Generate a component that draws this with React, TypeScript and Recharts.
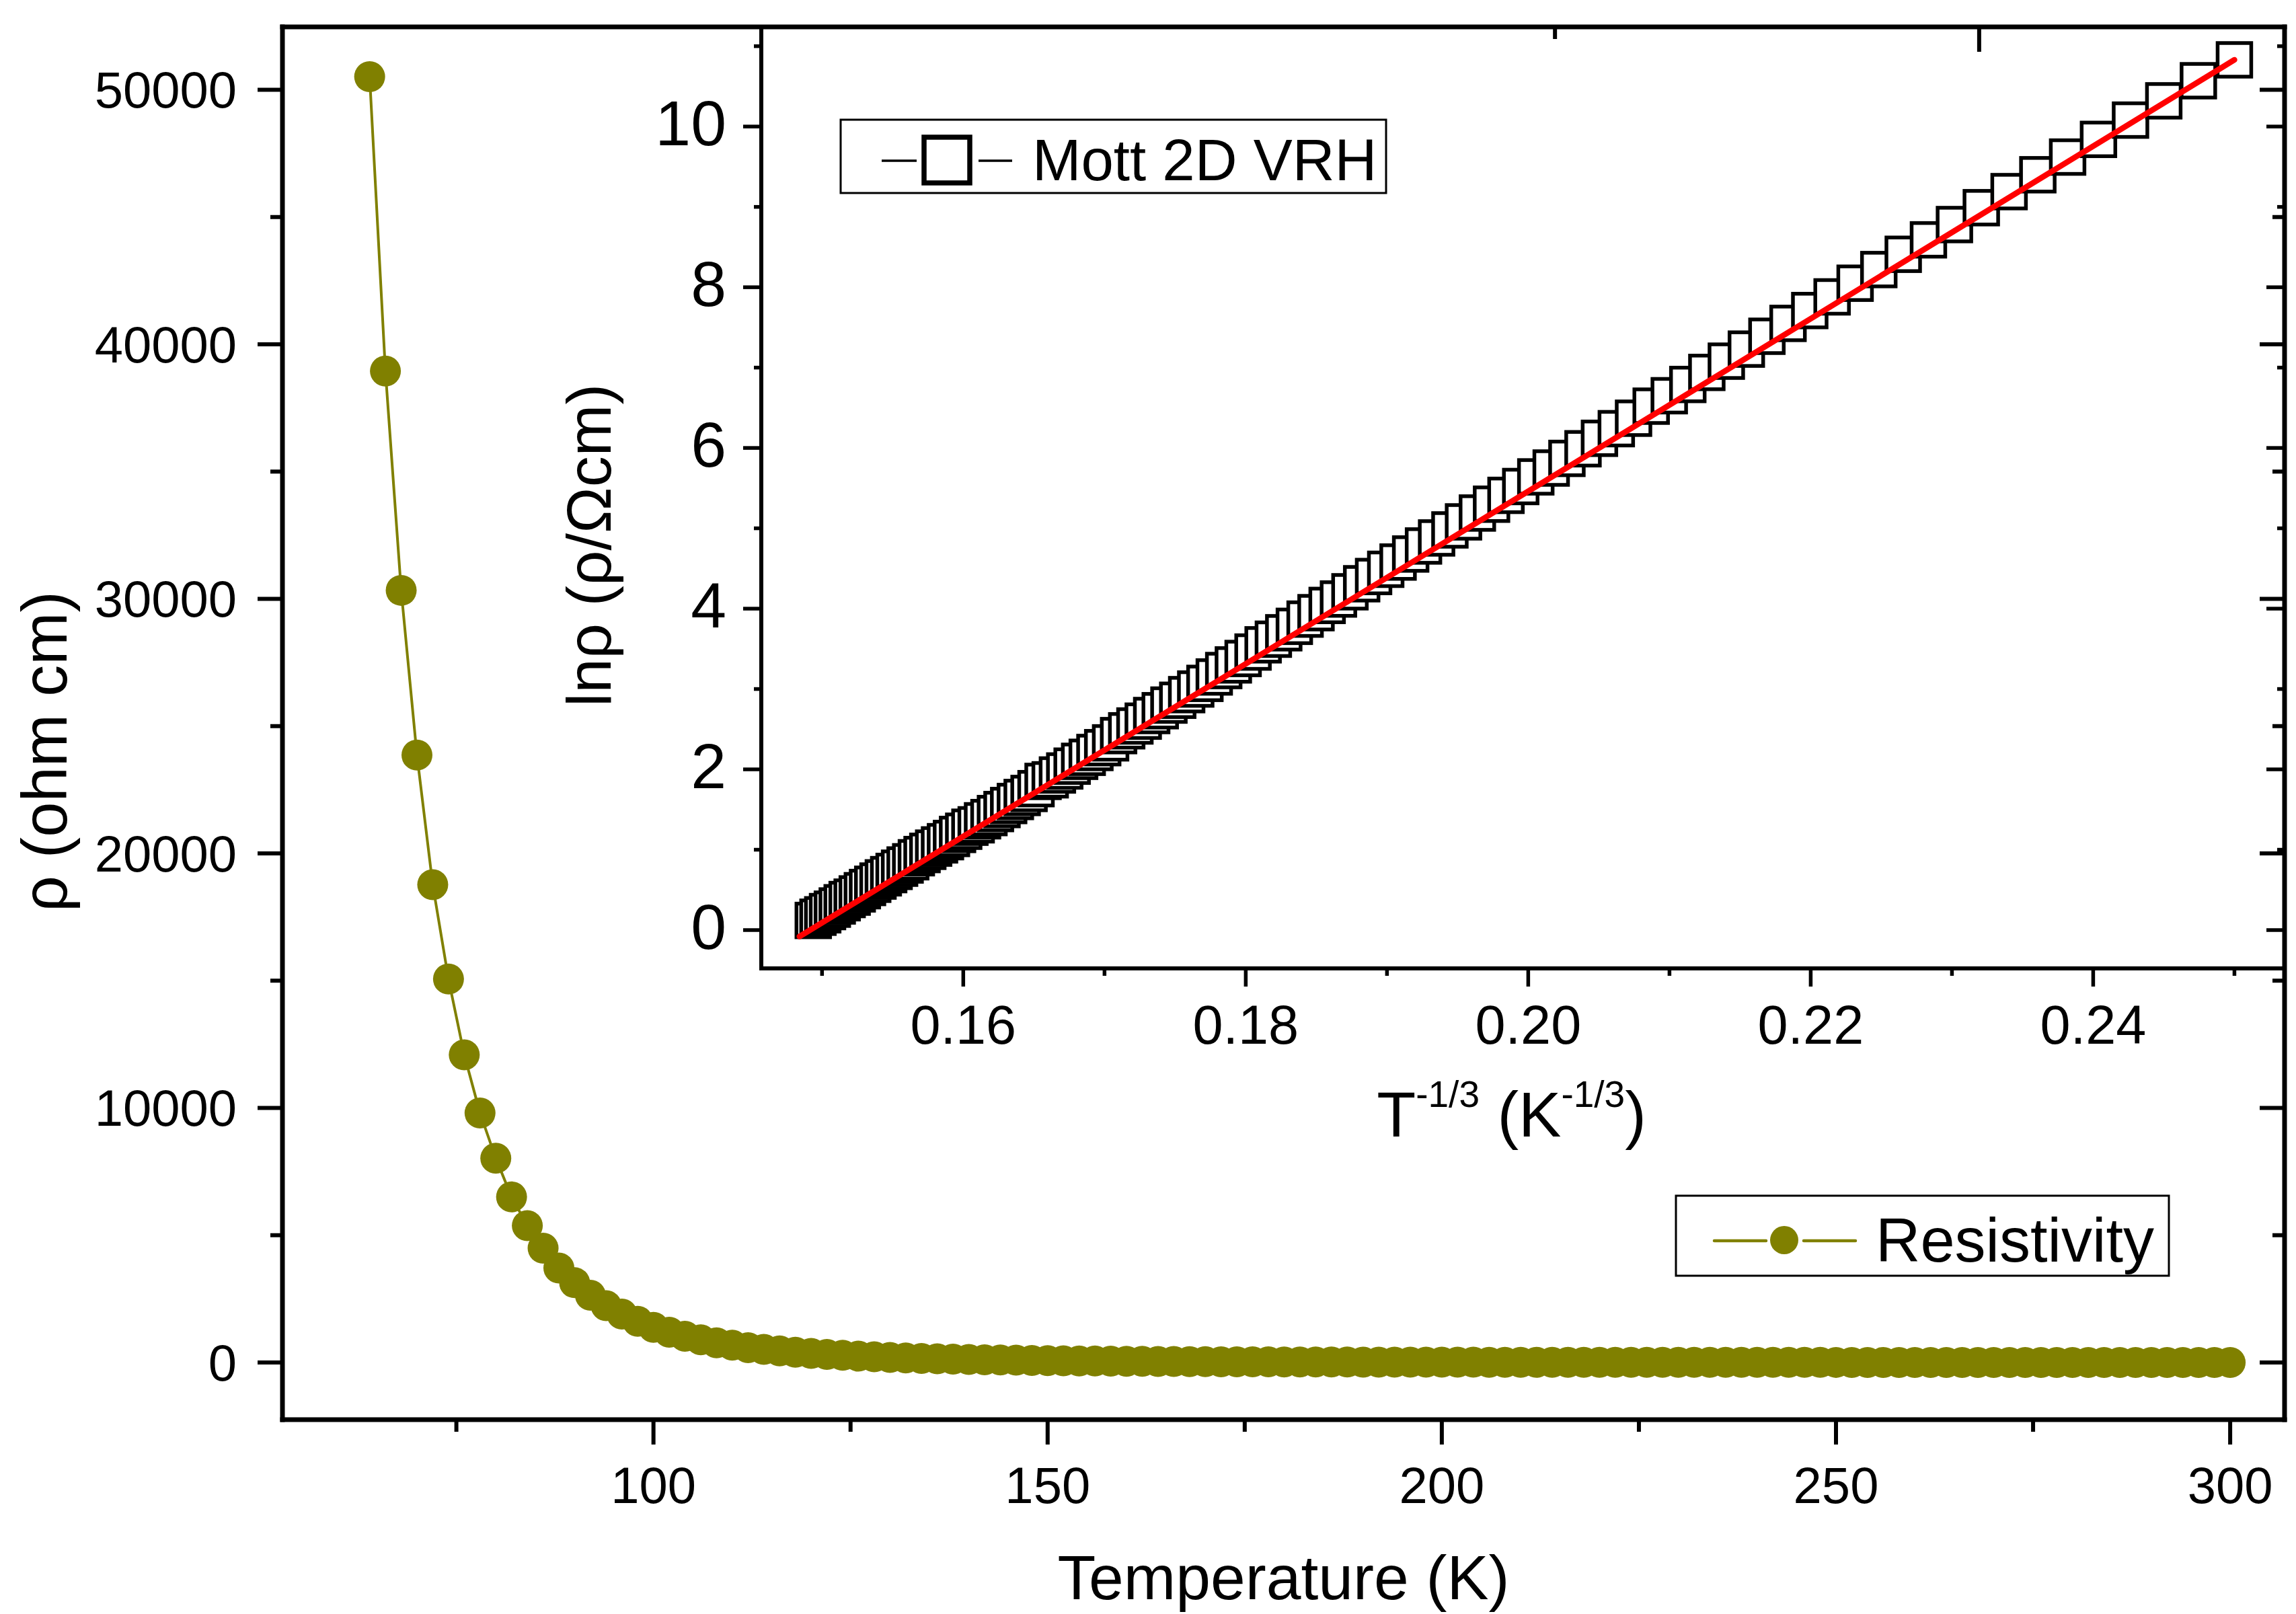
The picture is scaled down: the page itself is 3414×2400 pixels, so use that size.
import React from 'react';
import { ComposedChart, Line, Scatter, XAxis, YAxis, Customized } from 'recharts';

const W = 3414;
const H = 2400;
const FONT = '"Liberation Sans", Arial, Helvetica, sans-serif';
const OLIVE = '#808000';

// temperature (K) of each measured point
const temperature = [
  64, 66, 68, 70, 72, 74, 76, 78, 80, 82, 84, 86, 88, 90, 92, 94, 96, 98, 100, 102,
  104, 106, 108, 110, 112, 114, 116, 118, 120, 122, 124, 126, 128, 130, 132, 134, 136, 138, 140, 142,
  144, 146, 148, 150, 152, 154, 156, 158, 160, 162, 164, 166, 168, 170, 172, 174, 176, 178, 180, 182,
  184, 186, 188, 190, 192, 194, 196, 198, 200, 202, 204, 206, 208, 210, 212, 214, 216, 218, 220, 222,
  224, 226, 228, 230, 232, 234, 236, 238, 240, 242, 244, 246, 248, 250, 252, 254, 256, 258, 260, 262,
  264, 266, 268, 270, 272, 274, 276, 278, 280, 282, 284, 286, 288, 290, 292, 294, 296, 298, 300,
];

// ln(rho / ohm cm)
const lnRho = [
  10.83, 10.57, 10.32, 10.08, 9.84, 9.62, 9.4, 9.19, 8.99, 8.78, 8.59, 8.41, 8.22,
  8.05, 7.88, 7.71, 7.55, 7.39, 7.23, 7.08, 6.94, 6.79, 6.65,
  6.52, 6.37, 6.24, 6.12, 5.99, 5.87, 5.75, 5.64, 5.52, 5.41,
  5.3, 5.19, 5.08, 4.98, 4.88, 4.78, 4.68, 4.58, 4.49, 4.4,
  4.31, 4.21, 4.12, 4.04, 3.95, 3.87, 3.78, 3.7, 3.62, 3.55,
  3.46, 3.38, 3.3, 3.23, 3.15, 3.07, 3.0, 2.93, 2.86, 2.8,
  2.73, 2.67, 2.6, 2.54, 2.48, 2.42, 2.33, 2.27, 2.21, 2.15,
  2.1, 2.04, 1.98, 1.93, 1.87, 1.85, 1.76, 1.7, 1.65, 1.6,
  1.55, 1.5, 1.45, 1.4, 1.36, 1.31, 1.28, 1.23, 1.19, 1.14,
  1.1, 1.06, 1.02, 0.98, 0.94, 0.9, 0.85, 0.81, 0.77, 0.73,
  0.69, 0.65, 0.61, 0.57, 0.53, 0.49, 0.45, 0.41, 0.38, 0.34,
  0.3, 0.26, 0.23, 0.19, 0.16, 0.12,
];

// linear fit (red line) end points
const fitX = [0.1484, 0.25];
const fitLn = [-0.08, 10.83];

const mainXTicks = [75, 100, 125, 150, 175, 200, 225, 250, 275, 300];
const mainYTicks = [0, 5000, 10000, 15000, 20000, 25000, 30000, 35000, 40000, 45000, 50000];
const insetXTicks = [0.15, 0.16, 0.17, 0.18, 0.19, 0.2, 0.21, 0.22, 0.23, 0.24, 0.25];
const insetYTicks = [0, 1, 2, 3, 4, 5, 6, 7, 8, 9, 10, 11];

const mainData = temperature.map((t, i) => ({ T: t, rho: Math.exp(lnRho[i]) }));
// drawn from 300 K down to 64 K so the low-T squares sit on top
const insetData = temperature.map((t, i) => ({ x: Math.pow(t, -1 / 3), v: lnRho[i] })).reverse();
const fitData = fitX.map((x, i) => ({ x, v: fitLn[i] }));

type TickOpts = {
  side: 'bottom' | 'top' | 'left' | 'right';
  isMajor: (v: number) => boolean;
  major: number;
  minor: number;
  sw: number;
  fontSize?: number;
  offset?: number;
  dy?: number;
  format?: (v: number) => string;
};

const makeTick = (o: TickOpts) => (props: any) => {
  const { x, y, payload } = props;
  const v = payload.value;
  const major = o.isMajor(v);
  const len = major ? o.major : o.minor;
  const vertical = o.side === 'bottom' || o.side === 'top';
  const line = vertical
    ? <line x1={x} y1={y} x2={x} y2={y + len} stroke="#000" strokeWidth={o.sw} />
    : <line x1={x} y1={y} x2={x - len} y2={y} stroke="#000" strokeWidth={o.sw} />;
  let label = null;
  if (major && o.format) {
    label = o.side === 'bottom'
      ? <text x={x} y={y + (o.offset || 0)} textAnchor="middle" fontSize={o.fontSize} fontFamily={FONT} fill="#000">{o.format(v)}</text>
      : <text x={x - (o.offset || 0)} y={y + (o.dy || 0)} textAnchor="end" fontSize={o.fontSize} fontFamily={FONT} fill="#000">{o.format(v)}</text>;
  }
  return <g>{line}{label}</g>;
};

const mainMajorX = (v: number) => v % 50 === 0;
const mainMajorY = (v: number) => v % 10000 === 0;
const insetMajorX = (v: number) => Math.round(v * 100) % 2 === 0;
const insetMajorY = (v: number) => v % 2 === 0;

const mainAxisLine = { stroke: '#000', strokeWidth: 7, strokeLinecap: 'square' as const };
const insetAxisLine = { stroke: '#000', strokeWidth: 6, strokeLinecap: 'square' as const };

const ResistivityLegend = () => (
  <g>
    <rect x={2492} y={1778} width={733} height={119} fill="#fff" stroke="#000" strokeWidth={3} />
    <line x1={2549} y1={1845} x2={2626} y2={1845} stroke={OLIVE} strokeWidth={4.5} strokeLinecap="round" />
    <line x1={2682} y1={1845} x2={2759} y2={1845} stroke={OLIVE} strokeWidth={4.5} strokeLinecap="round" />
    <circle cx={2653} cy={1844} r={21} fill={OLIVE} />
    <text x={2789} y={1876} fontSize={92} fontFamily={FONT} fill="#000">Resistivity</text>
  </g>
);

const MottLegend = () => (
  <g>
    <rect x={1250} y={178} width={811} height={109} fill="#fff" stroke="#000" strokeWidth={3} />
    <line x1={1311} y1={239} x2={1363} y2={239} stroke="#000" strokeWidth={3.5} />
    <line x1={1455} y1={239} x2={1505} y2={239} stroke="#000" strokeWidth={3.5} />
    <rect x={1374} y={204} width={68} height={68} fill="#fff" stroke="#000" strokeWidth={7.5} />
    <text x={1535} y={268} fontSize={87} fontFamily={FONT} fill="#000">Mott 2D VRH</text>
  </g>
);

const Square = (props: any) => {
  const { cx, cy } = props;
  if (cx == null || cy == null) return <g />;
  return <rect x={cx - 25} y={cy - 25} width={50} height={50} fill="#fff" stroke="#000" strokeWidth={5.5} />;
};

const NoMark = () => <g />;

const MainChart = () => (
  <ComposedChart width={W} height={H} data={mainData} margin={{ top: 30, right: 7, bottom: 89, left: 120 }}>
    <XAxis
      xAxisId="b" dataKey="T" type="number" domain={[52.94, 306.9]} allowDataOverflow
      ticks={mainXTicks} interval={0} tickSize={0} tickMargin={0} tickLine={false} height={200}
      axisLine={mainAxisLine}
      tick={makeTick({ side: 'bottom', isMajor: mainMajorX, major: 37, minor: 18, sw: 6, fontSize: 76, offset: 124, format: (v) => String(v) })}
      label={{
        content: (p: any) => {
          const vb = p.viewBox || { x: 420, y: 2111, width: 2977 };
          return (
            <text x={vb.x + vb.width / 2} y={vb.y + 267} textAnchor="middle" fontSize={93} fontFamily={FONT} fill="#000">
              Temperature (K)
            </text>
          );
        },
      }}
    />
    <XAxis
      xAxisId="t" orientation="top" type="number" domain={[52.94, 306.9]} allowDataOverflow
      ticks={mainXTicks} interval={0} tickSize={0} tickMargin={0} tickLine={false} height={10}
      axisLine={mainAxisLine}
      tick={makeTick({ side: 'top', isMajor: mainMajorX, major: 37, minor: 18, sw: 6 })}
    />
    <YAxis
      yAxisId="l" type="number" domain={[-2246, 52470]} allowDataOverflow
      ticks={mainYTicks} interval={0} tickSize={0} tickMargin={0} tickLine={false} width={300}
      axisLine={mainAxisLine}
      tick={makeTick({ side: 'left', isMajor: mainMajorY, major: 37, minor: 18, sw: 6, fontSize: 76, offset: 68, dy: 27, format: (v) => String(v) })}
      label={{
        content: (p: any) => {
          const vb = p.viewBox || { x: 120, y: 40, height: 2071 };
          const bx = vb.x - 21;
          const cy = vb.y + vb.height / 2 + 42;
          return (
            <text x={bx} y={cy} transform={`rotate(-90, ${bx}, ${cy})`} textAnchor="middle" fontSize={94} fontFamily={FONT} fill="#000">
              ρ (ohm cm)
            </text>
          );
        },
      }}
    />
    <YAxis
      yAxisId="r" orientation="right" type="number" domain={[-2246, 52470]} allowDataOverflow
      ticks={mainYTicks} interval={0} tickSize={0} tickMargin={0} tickLine={false} width={10}
      axisLine={mainAxisLine}
      tick={makeTick({ side: 'right', isMajor: mainMajorY, major: 37, minor: 18, sw: 6 })}
    />
    <Line
      xAxisId="b" yAxisId="l" type="linear" dataKey="rho" stroke={OLIVE} strokeWidth={4}
      dot={{ r: 23, fill: OLIVE, stroke: OLIVE, strokeWidth: 0 }} activeDot={false} isAnimationActive={false}
    />
    <Customized component={ResistivityLegend} />
  </ComposedChart>
);

const InsetChart = () => (
  <ComposedChart width={W} height={H} margin={{ top: 30, right: 7, bottom: 760, left: 932 }}>
    <XAxis
      xAxisId="b" dataKey="x" type="number" domain={[0.1457, 0.25355]} allowDataOverflow
      ticks={insetXTicks} interval={0} tickSize={0} tickMargin={0} tickLine={false} height={200}
      axisLine={insetAxisLine}
      tick={makeTick({ side: 'bottom', isMajor: insetMajorX, major: 27, minor: 11, sw: 5.5, fontSize: 81, offset: 112, format: (v) => v.toFixed(2) })}
      label={{
        content: (p: any) => {
          const vb = p.viewBox || { x: 1132, y: 1440, width: 2265 };
          return (
            <text x={vb.x + vb.width / 2 - 17} y={vb.y + 250} textAnchor="middle" fontSize={95} fontFamily={FONT} fill="#000">
              <tspan>T</tspan>
              <tspan dy={-44} fontSize={55}>-1/3</tspan>
              <tspan dy={44} fontSize={95}> (K</tspan>
              <tspan dy={-44} fontSize={55}>-1/3</tspan>
              <tspan dy={44} fontSize={95}>)</tspan>
            </text>
          );
        },
      }}
    />
    <XAxis
      xAxisId="t" orientation="top" type="number" domain={[0.1457, 0.25355]} allowDataOverflow
      ticks={insetXTicks} interval={0} tickSize={0} tickMargin={0} tickLine={false} height={10}
      axisLine={insetAxisLine}
      tick={makeTick({ side: 'top', isMajor: insetMajorX, major: 27, minor: 11, sw: 5.5 })}
    />
    <YAxis
      yAxisId="l" dataKey="v" type="number" domain={[-0.477, 11.24]} allowDataOverflow
      ticks={insetYTicks} interval={0} tickSize={0} tickMargin={0} tickLine={false} width={200}
      axisLine={insetAxisLine}
      tick={makeTick({ side: 'left', isMajor: insetMajorY, major: 27, minor: 11, sw: 5.5, fontSize: 95, offset: 52, dy: 28, format: (v) => String(v) })}
      label={{
        content: (p: any) => {
          const vb = p.viewBox || { x: 932, y: 40, height: 1400 };
          const bx = vb.x - 24;
          const cy = vb.y + vb.height / 2 + 71;
          return (
            <text x={bx} y={cy} transform={`rotate(-90, ${bx}, ${cy})`} textAnchor="middle" fontSize={92} fontFamily={FONT} fill="#000">
              lnρ (ρ/Ωcm)
            </text>
          );
        },
      }}
    />
    <YAxis
      yAxisId="r" orientation="right" type="number" domain={[-0.477, 11.24]} allowDataOverflow
      ticks={insetYTicks} interval={0} tickSize={0} tickMargin={0} tickLine={false} width={10}
      axisLine={insetAxisLine}
      tick={makeTick({ side: 'right', isMajor: insetMajorY, major: 27, minor: 11, sw: 5.5 })}
    />
    <Scatter xAxisId="b" yAxisId="l" data={insetData} dataKey="v" shape={Square} isAnimationActive={false} />
    <Scatter
      xAxisId="b" yAxisId="l" data={fitData} dataKey="v" shape={NoMark} fill="none"
      line={{ stroke: '#ff0000', strokeWidth: 8.5, strokeLinecap: 'round' }} isAnimationActive={false}
    />
    <Customized component={MottLegend} />
  </ComposedChart>
);

export default function App() {
  return (
    <div style={{ position: 'absolute', left: 0, top: 0, width: W, height: H, background: '#fff', fontFamily: FONT }}>
      <div style={{ position: 'absolute', left: 0, top: 0 }}>
        <MainChart />
      </div>
      <div style={{ position: 'absolute', left: 0, top: 0 }}>
        <InsetChart />
      </div>
    </div>
  );
}
